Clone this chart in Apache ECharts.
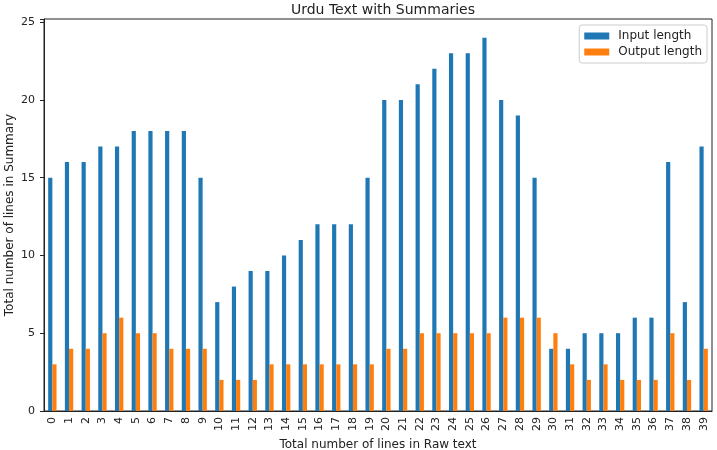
<!DOCTYPE html>
<html>
<head>
<meta charset="utf-8">
<script src="https://cdn.jsdelivr.net/npm/echarts@6/dist/echarts.min.js"></script>
<style>
  html, body { margin: 0; padding: 0; background: #fff; }
  #main { width: 717px; height: 450px; }
</style>
</head>
<body>
<div id="main"></div>
<script>
var categories = [];
for (var i = 0; i < 40; i++) categories.push(String(i));

var inputLength = [15, 16, 16, 17, 17, 18, 18, 18, 18, 15,
                   7, 8, 9, 9, 10, 11, 12, 12, 12, 15,
                   20, 20, 21, 22, 23, 23, 24, 20, 19, 15,
                   4, 4, 5, 5, 5, 6, 6, 16, 7, 17];
var outputLength = [3, 4, 4, 5, 6, 5, 5, 4, 4, 4,
                    2, 2, 2, 3, 3, 3, 3, 3, 3, 3,
                    4, 4, 5, 5, 5, 5, 5, 6, 6, 6,
                    5, 3, 2, 3, 2, 2, 2, 5, 2, 4];

var chartDom = document.getElementById("main");
var myChart = echarts.init(chartDom);
var font = "DejaVu Sans";

var option = {
  animation: false,
  textStyle: { fontFamily: font },
  title: {
    text: "Urdu Text with Summaries",
    left: 378,
    top: -2,
    textAlign: "center",
    textStyle: { fontFamily: font, fontSize: 14, fontWeight: "normal", color: "#222" }
  },
  legend: {
    right: 10,
    top: 25,
    orient: "vertical",
    itemWidth: 25,
    itemHeight: 7,
    itemGap: 4,
    padding: [5, 5, 5, 5],
    borderColor: "#ccc",
    borderWidth: 1,
    borderRadius: 3,
    textStyle: { fontFamily: font, fontSize: 12, color: "#222", padding: [0, 0, 0, 4] },
    data: [
      { name: "Input length", icon: "rect" },
      { name: "Output length", icon: "rect" }
    ]
  },
  grid: {
    left: 44,
    right: 5,
    top: 19,
    bottom: 39,
    show: true,
    borderColor: "#222",
    borderWidth: 1,
    containLabel: false,
    outerBoundsMode: "none"
  },
  xAxis: {
    type: "category",
    data: categories,
    name: "Total number of lines in Raw text",
    nameLocation: "middle",
    nameGap: 28,
    nameMoveOverlap: false,
    nameTextStyle: { fontFamily: font, fontSize: 12, color: "#222" },
    axisLine: { lineStyle: { color: "#222" } },
    axisTick: { alignWithLabel: true, length: 4, lineStyle: { color: "#222" } },
    axisLabel: { rotate: 90, interval: 0, fontSize: 11, color: "#222", margin: 6 },
    splitLine: { show: false }
  },
  yAxis: {
    type: "value",
    min: 0,
    max: 25.2,
    interval: 5,
    name: "Total number of lines in Summary",
    nameLocation: "middle",
    nameGap: 28,
    nameMoveOverlap: false,
    nameTextStyle: { fontFamily: font, fontSize: 12, color: "#222" },
    axisLine: { show: true, lineStyle: { color: "#222" } },
    axisTick: { show: true, length: 4, lineStyle: { color: "#222" } },
    axisLabel: {
      fontSize: 11,
      color: "#222",
      margin: 9,
      formatter: function (v) { return v % 5 === 0 ? String(v) : ""; }
    },
    splitLine: { show: false }
  },
  series: [
    {
      name: "Input length",
      type: "bar",
      data: inputLength,
      barWidth: "25%",
      barGap: "0%",
      itemStyle: { color: "#1f77b4" }
    },
    {
      name: "Output length",
      type: "bar",
      data: outputLength,
      barWidth: "25%",
      barGap: "0%",
      itemStyle: { color: "#ff7f0e" }
    }
  ]
};
myChart.setOption(option);
</script>
</body>
</html>
